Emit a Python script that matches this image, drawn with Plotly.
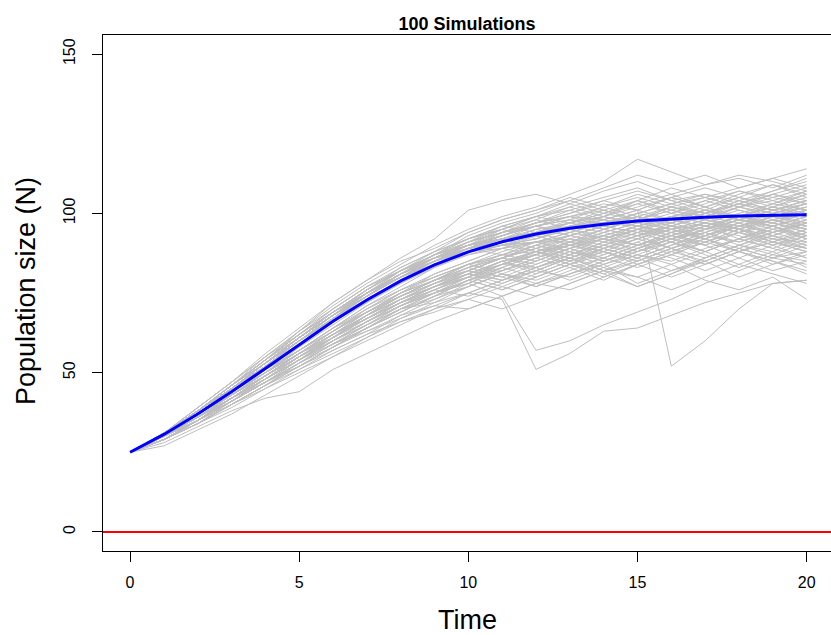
import plotly.graph_objects as go

time = list(range(21))

# Deterministic (mean) trajectory - blue line
mean_n = [25, 30.6, 37.0, 44.0, 51.3, 58.8, 66.1, 72.8, 78.8, 83.8, 87.9,
          91.1, 93.5, 95.3, 96.6, 97.6, 98.3, 98.8, 99.2, 99.4, 99.6]

# 100 simulated trajectories (grey lines)
sims = [
    [25,31,38,45,53,61,68,75,81,86,90,92,94,96,97,96,99,101,98,100,102],
    [25,31,38,46,54,62,70,77,82,87,91,94,96,93,96,99,97,100,103,101,99],
    [25,31,37,45,53,60,67,73,79,84,88,89,91,92,90,94,96,95,98,97,95],
    [25,30,37,44,52,59,66,73,79,84,88,91,93,90,93,96,94,97,95,98,100],
    [25,31,37,45,52,60,67,75,81,86,91,94,97,99,101,98,102,100,104,101,103],
    [25,31,37,44,52,60,67,74,80,84,88,90,88,90,92,95,93,96,99,97,94],
    [25,31,38,45,53,61,68,75,81,86,89,92,93,96,94,97,99,98,96,100,98],
    [25,31,38,46,54,62,69,76,82,87,90,93,96,98,97,100,103,105,102,104,107],
    [25,30,37,44,52,59,66,72,78,83,87,89,91,91,89,93,95,92,96,98,95],
    [25,31,38,45,53,60,67,75,80,85,89,91,94,97,99,96,98,101,99,97,100],
    [25,30,37,44,50,56,62,67,73,77,80,85,87,91,93,90,94,92,96,94,97],
    [25,31,38,45,52,59,66,73,79,84,89,92,94,91,95,98,101,99,97,100,103],
    [25,31,37,45,52,60,67,74,80,85,89,91,88,90,94,92,89,93,96,99,97],
    [25,29,34,40,46,52,58,64,69,74,79,83,87,90,88,92,95,97,94,96,92],
    [25,30,37,44,52,59,67,74,81,85,90,95,98,102,99,104,101,98,102,105,103],
    [25,30,36,43,49,56,63,70,76,80,84,82,86,90,93,96,94,97,95,92,95],
    [25,31,38,45,53,61,68,75,81,86,90,92,93,95,92,95,98,96,99,102,100],
    [25,30,36,42,48,54,60,66,72,76,80,84,83,87,90,88,92,95,93,90,94],
    [25,30,37,45,53,60,67,73,79,84,88,91,95,97,100,103,100,104,107,105,108],
    [25,31,37,45,53,61,69,76,82,86,89,87,88,91,95,93,97,94,98,101,99],
    [25,30,37,44,52,59,67,74,80,85,89,90,91,93,96,94,91,95,98,96,99],
    [25,31,38,46,53,61,68,75,80,85,89,93,96,94,97,99,97,100,98,101,104],
    [25,30,36,42,49,56,61,67,72,77,82,80,84,88,86,90,93,91,95,93,90],
    [25,31,38,46,54,62,69,76,82,86,90,92,94,96,98,101,98,96,99,97,101],
    [25,31,38,45,53,60,67,74,80,84,88,90,91,88,92,95,97,100,98,95,98],
    [25,31,38,45,53,61,68,75,80,85,88,90,92,95,93,90,94,97,95,99,96],
    [25,29,34,41,47,54,60,66,72,77,82,86,89,92,95,93,96,99,102,99,102],
    [25,31,38,46,54,62,69,75,80,86,90,92,89,93,96,99,96,93,96,99,101],
    [25,30,37,43,50,57,63,70,75,79,83,86,89,87,91,89,93,96,94,97,94],
    [25,31,38,45,53,61,68,75,81,86,91,96,99,101,104,107,104,106,103,107,110],
    [25,30,36,43,49,56,62,69,74,79,82,86,84,88,85,89,92,90,94,91,89],
    [25,31,38,46,54,61,68,75,81,86,90,93,96,98,95,99,102,100,103,106,104],
    [25,29,35,41,48,55,62,68,75,80,84,88,91,89,93,96,99,97,95,98,96],
    [25,30,37,45,52,60,66,73,79,84,87,90,93,97,100,98,101,104,101,99,102],
    [25,30,36,42,49,55,61,67,72,77,81,84,87,90,88,85,89,93,91,94,97],
    [25,31,38,46,54,62,69,75,81,85,89,92,94,97,95,98,95,98,101,98,95],
    [25,31,38,45,53,60,67,74,80,85,88,90,91,94,97,100,98,95,99,102,105],
    [25,30,37,44,51,57,64,69,74,79,84,87,85,89,92,90,93,96,94,92,91],
    [25,30,36,43,50,58,65,72,78,84,89,93,97,100,103,101,105,102,99,103,101],
    [25,29,35,42,49,56,62,69,75,79,84,86,90,93,91,95,92,95,98,96,93],
    [25,31,38,45,53,61,68,75,81,86,88,90,92,95,98,96,99,97,100,103,106],
    [25,30,36,43,50,56,63,69,75,81,85,89,87,91,94,97,95,92,96,94,98],
    [25,31,38,45,52,60,67,74,80,85,89,94,97,99,96,100,103,106,104,101,104],
    [25,30,36,43,50,57,64,71,76,80,84,87,90,88,85,89,92,94,90,93,96],
    [25,31,38,46,53,61,68,74,80,85,89,92,94,97,99,97,100,98,102,100,97],
    [25,30,36,42,49,55,62,68,74,79,83,86,90,93,96,99,97,101,99,102,99],
    [25,29,35,42,48,55,61,68,73,78,81,85,88,86,89,92,95,93,96,99,101],
    [25,31,37,44,52,59,66,73,79,85,90,93,96,99,102,105,102,99,103,100,103],
    [25,30,36,43,50,56,63,69,74,78,83,87,91,94,92,96,93,97,95,98,100],
    [25,31,38,45,53,61,68,75,82,87,90,92,95,93,96,94,98,101,98,96,99],
    [25,31,38,46,54,63,71,78,84,90,95,99,102,106,110,117,113,109,111,108,112],
    [25,31,39,47,55,63,70,77,83,88,94,98,101,104,108,112,109,112,108,111,114],
    [25,31,38,46,55,63,72,79,86,92,101,104,106,103,107,110,106,109,112,110,107],
    [25,30,36,42,48,54,60,65,70,72,75,73,51,56,63,64,68,72,75,78,79],
    [25,29,35,42,48,55,61,67,72,75,78,74,57,60,65,69,73,78,82,86,88],
    [25,30,37,44,51,57,64,71,77,83,88,92,96,99,98,101,52,60,70,78,79],
    [25,29,34,40,45,51,56,61,66,70,73,77,74,78,82,80,84,79,76,80,73],
    [25,28,33,38,42,44,51,56,61,66,70,74,78,81,84,87,85,89,92,95,93],
    [25,27,32,37,43,49,55,61,67,72,77,81,79,83,86,90,88,91,95,93,90],
    [25,29,34,39,45,50,55,60,65,70,75,79,82,80,84,78,82,85,80,84,88],
    [25,30,35,41,47,52,57,62,66,69,73,70,74,78,82,77,81,86,90,87,91],
    [25,29,35,40,46,52,58,63,67,71,75,79,83,86,82,85,89,84,88,92,89],
    [25,30,36,42,47,53,59,64,69,74,79,82,86,83,79,84,88,92,89,86,90],
    [25,29,34,40,46,51,57,62,68,73,78,83,80,84,89,86,90,94,91,95,92],
    [25,30,36,41,47,53,59,63,68,71,70,74,78,76,80,84,88,85,89,93,97],
    [25,30,35,41,47,52,58,64,69,74,77,81,77,81,85,89,86,82,86,90,86],
    [25,29,35,41,48,54,61,67,72,77,81,85,88,84,88,92,96,99,95,91,94],
    [25,30,36,43,49,55,60,66,71,76,80,83,87,91,88,84,80,84,88,85,82],
    [25,30,36,42,48,55,61,68,73,77,81,78,82,86,90,93,89,93,97,100,96],
    [25,29,34,40,46,53,59,65,71,75,79,82,85,89,92,88,91,87,83,87,85],
    [25,31,38,45,53,61,69,76,82,87,91,95,99,103,100,104,108,105,102,106,109],
    [25,31,38,46,54,61,69,75,81,87,92,96,99,97,101,104,100,103,107,104,101],
    [25,30,37,45,53,61,68,75,81,87,93,97,100,104,101,98,102,105,108,111,108],
    [25,31,39,47,55,62,70,77,82,88,92,95,92,96,99,103,106,102,105,102,106],
    [25,31,38,45,52,60,67,74,81,86,90,93,97,100,104,101,105,108,105,109,106],
    [25,30,37,45,53,60,68,76,83,88,92,96,94,98,102,99,96,100,104,107,111],
    [25,31,38,46,53,61,68,74,80,86,90,94,98,95,99,102,105,102,98,101,104],
    [25,31,39,47,56,64,72,79,85,89,94,98,101,105,102,106,103,100,103,106,103],
    [25,30,37,44,52,60,68,75,82,87,92,95,99,102,105,108,104,101,105,103,107],
    [25,31,38,45,53,60,67,75,81,86,91,94,97,101,98,95,99,102,106,109,105],
    [25,30,36,42,48,54,60,66,71,75,78,82,86,89,85,88,91,88,92,89,86],
    [25,29,35,41,47,53,59,64,70,74,79,76,80,84,87,91,87,84,88,91,95],
    [25,30,36,42,49,55,61,66,72,77,81,85,81,85,88,85,89,92,88,84,87],
    [25,30,35,41,47,54,60,66,71,75,80,84,87,84,80,84,87,91,94,90,93],
    [25,29,35,42,48,54,61,67,73,77,80,77,81,85,89,93,96,92,88,91,88],
    [25,30,36,42,49,56,62,67,73,78,82,86,89,86,82,86,90,93,97,94,91],
    [25,30,36,43,49,55,61,67,72,76,74,78,82,86,90,87,91,88,92,96,93],
    [25,29,35,41,47,53,58,64,70,75,79,84,88,85,81,77,81,85,89,86,84],
    [25,30,35,42,48,55,61,68,73,78,82,79,83,87,91,95,92,88,84,88,92],
    [25,30,36,42,48,54,61,67,72,76,80,84,88,92,89,86,90,94,97,93,89],
    [25,29,34,40,46,52,58,64,70,75,80,84,88,85,89,86,82,86,90,88,83],
    [25,30,36,43,49,55,61,68,74,79,84,81,85,89,86,90,94,90,86,82,85],
    [25,30,36,42,48,54,59,65,70,73,77,81,78,82,86,83,87,91,88,85,81],
    [25,29,35,41,47,53,60,66,71,76,81,85,82,86,83,80,76,80,84,81,78],
    [25,30,37,44,50,57,63,69,74,79,82,86,90,87,84,88,92,96,92,96,99],
    [25,30,36,43,50,56,63,69,75,79,83,80,77,81,85,89,93,90,94,98,95],
    [25,30,36,42,49,56,62,68,74,78,82,86,83,79,83,87,84,88,92,89,93],
    [25,29,35,41,48,54,60,65,71,75,79,76,80,84,81,85,89,86,90,94,97],
    [25,30,37,43,50,57,64,70,76,81,85,89,93,90,87,91,95,98,95,91,88],
    [25,30,36,43,49,56,62,68,73,77,81,79,83,87,91,94,91,95,99,96,92],
]

x_ticks = [0, 5, 10, 15, 20]
y_ticks = [0, 50, 100, 150]
title_text = "100 Simulations"
x_label = "Time"
y_label = "Population size (N)"
extinction_level = 0

FONT = "Liberation Sans, Arial, sans-serif"

fig = go.Figure()
for s in sims:
    fig.add_trace(go.Scatter(x=time, y=s, mode="lines",
                             line=dict(color="#BEBEBE", width=1),
                             hoverinfo="skip", showlegend=False))
fig.add_trace(go.Scatter(x=time, y=mean_n, mode="lines",
                         line=dict(color="#0000FF", width=3),
                         showlegend=False))
fig.add_hline(y=extinction_level, line=dict(color="#FF0000", width=2), layer="above")

fig.update_layout(
    width=831, height=635,
    margin=dict(l=103, r=0, t=35, b=84),
    paper_bgcolor="white", plot_bgcolor="white",
    font=dict(family=FONT, color="black"),
    title=dict(text="<b>" + title_text + "</b>", x=0.5, xref="paper",
               xanchor="center", y=1 - 24 / 635, yanchor="middle",
               font=dict(size=18, family=FONT, color="black")),
    xaxis=dict(range=[-0.8, 20.72], tickvals=x_ticks, ticks="outside",
               ticklen=10, tickcolor="black", showgrid=False, zeroline=False,
               showline=True, linecolor="black", linewidth=1, mirror=True,
               tickfont=dict(size=16, family=FONT), ticklabelstandoff=7),
    yaxis=dict(range=[-6, 156], tickvals=y_ticks, ticks="outside",
               ticklen=10, tickcolor="black", showgrid=False, zeroline=False,
               showline=True, linecolor="black", linewidth=1, mirror=False,
               tickangle=-90, tickfont=dict(size=16, family=FONT),
               ticklabelstandoff=11),
    annotations=[
        dict(text=x_label, xref="paper", yref="paper", x=0.5, y=0,
             xanchor="center", yanchor="middle", yshift=-69, showarrow=False,
             font=dict(size=27, family=FONT)),
        dict(text=y_label, xref="paper", yref="paper", x=0, y=0.5,
             xanchor="center", yanchor="middle", xshift=-77, yshift=2,
             textangle=-90, showarrow=False, font=dict(size=27, family=FONT)),
    ],
)

fig.write_html("out.html", config={"displayModeBar": False},
               post_script="document.body.style.margin='0px';document.body.style.overflow='hidden';")
